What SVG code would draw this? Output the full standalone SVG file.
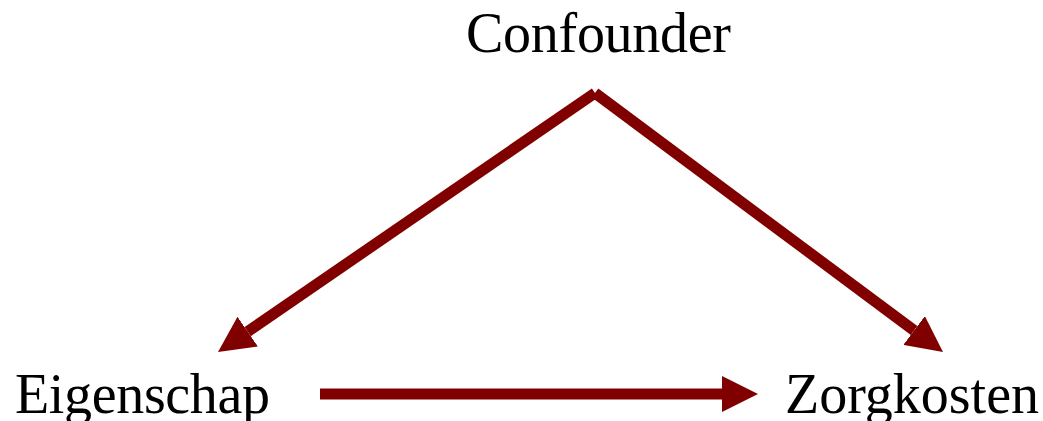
<svg xmlns="http://www.w3.org/2000/svg" width="1043" height="421" viewBox="0 0 1043 421">
<style>
.lbl{font-family:"Liberation Serif","DejaVu Serif",serif;font-size:56px;fill:#000}
.edge{stroke:#800000;stroke-width:11;fill:none}
</style>
<defs>
<marker id="ah" viewBox="0 0 36 36" refX="0" refY="18" markerWidth="36" markerHeight="36" markerUnits="userSpaceOnUse" orient="auto">
<path d="M0,0 L36,18 L0,36 Z" fill="#800000"/>
</marker>
</defs>
<rect width="1043" height="421" fill="#fff"/>
<g id="connectors">
<line class="edge" x1="595" y1="93" x2="247.7" y2="331.6" marker-end="url(#ah)"/>
<line class="edge" x1="595" y1="93" x2="914.1" y2="330.5" marker-end="url(#ah)"/>
<line class="edge" x1="320" y1="394" x2="722" y2="394" marker-end="url(#ah)"/>
</g>
<g id="confounder"><text class="lbl" x="466" y="52" textLength="265">Confounder</text></g>
<g id="eigenschap"><text class="lbl" x="15" y="413" textLength="255">Eigenschap</text></g>
<g id="zorgkosten"><text class="lbl" x="785" y="413" textLength="254">Zorgkosten</text></g>
</svg>
